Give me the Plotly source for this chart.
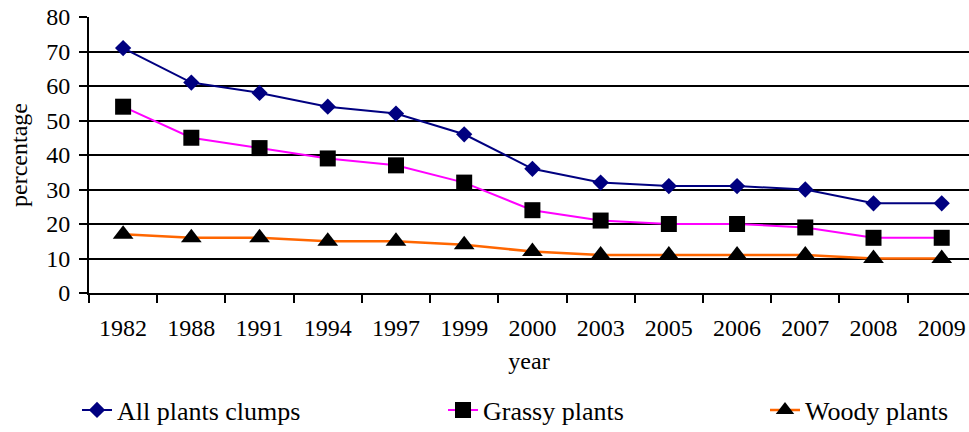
import plotly.graph_objects as go

years = ["1982", "1988", "1991", "1994", "1997", "1999", "2000", "2003", "2005", "2006", "2007", "2008", "2009"]
all_plants = [71, 61, 58, 54, 52, 46, 36, 32, 31, 31, 30, 26, 26]
grassy = [54, 45, 42, 39, 37, 32, 24, 21, 20, 20, 19, 16, 16]
woody = [17, 16, 16, 15, 15, 14, 12, 11, 11, 11, 11, 10, 10]
y_ticks = [0, 10, 20, 30, 40, 50, 60, 70, 80]

FONT = "Liberation Serif, Times New Roman, serif"

fig = go.Figure()
fig.add_trace(go.Scatter(x=years, y=all_plants, name="All plants clumps", mode="lines+markers",
                         line=dict(color="#000080", width=2),
                         marker=dict(symbol="diamond", size=12.5, color="#000080"), legend="legend"))
fig.add_trace(go.Scatter(x=years, y=grassy, name="Grassy plants", mode="lines+markers",
                         line=dict(color="#FF00FF", width=2),
                         marker=dict(symbol="square", size=16, color="#000000"), legend="legend2"))
fig.add_trace(go.Scatter(x=years, y=woody, name="Woody plants", mode="lines+markers",
                         line=dict(color="#FF6600", width=2.5),
                         marker=dict(symbol="triangle-up", size=18, color="#000000"), legend="legend3"))

leg = dict(orientation="h", yanchor="middle", y=-0.424, xanchor="left",
           font=dict(family=FONT, size=26, color="black"), bgcolor="rgba(0,0,0,0)")
fig.update_layout(
    width=969, height=432,
    margin=dict(l=89, r=0, t=17, b=139, autoexpand=False),
    paper_bgcolor="white", plot_bgcolor="white",
    font=dict(family=FONT, size=24, color="black"),
    showlegend=True,
    legend=dict(leg, x=(77 - 89) / 880),
    legend2=dict(leg, x=(443 - 89) / 880),
    legend3=dict(leg, x=(765 - 89) / 880),
    xaxis=dict(type="category", range=[-0.5, 12.4], tickson="boundaries", ticks="outside",
               ticklen=8, tickwidth=2, tickcolor="black", showline=True, linecolor="black", linewidth=2,
               showgrid=False, ticklabelstandoff=12, automargin=False, ticklabeloverflow="allow",
               title=dict(text="year", standoff=12, font=dict(family=FONT, size=24))),
    yaxis=dict(range=[0, 80], tickvals=y_ticks, ticks="outside", ticklen=8, tickwidth=2,
               tickcolor="black", showline=True, linecolor="black", linewidth=2,
               showgrid=True, gridcolor="black", gridwidth=2, zeroline=False,
               ticklabelstandoff=4, automargin=False, ticklabeloverflow="allow",
               title=dict(text="percentage", standoff=12, font=dict(family=FONT, size=24))),
)
fig.write_html("out.html", config={"displayModeBar": False},
               post_script="document.body.style.margin='0';document.body.style.overflow='hidden';")
